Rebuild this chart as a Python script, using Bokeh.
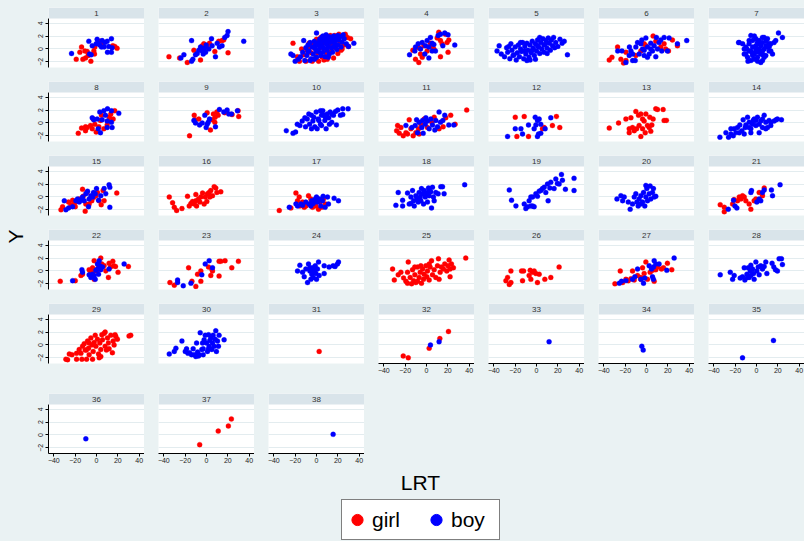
from bokeh.plotting import figure
from bokeh.layouts import row, column
from bokeh.models import (Range1d, FixedTicker, BoxAnnotation, Label, Grid,
                          Legend, LegendItem, GlobalInlineStyleSheet)
from bokeh.embed import file_html
from bokeh.resources import INLINE

# ---------------- style ----------------
BG = "#EAF2F3"
STRIP = "#D9E4EA"
GRIDC = "#E3ECEF"
RED = "#FF0000"
BLUE = "#0000FF"
FONT = "Liberation Sans"

# ---------------- axes / labels ----------------
Y_TICKS = [-2, 0, 2, 4]
X_TICKS = [-40, -20, 0, 20, 40]
Y_TICK_LABELS = {-2: "\u22122", 0: "0", 2: "2", 4: "4"}
X_TICK_LABELS = {-40: "\u221240", -20: "\u221220", 0: "0", 20: "20", 40: "40"}
X_TITLE = "LRT"
Y_TITLE = "Y"
SERIES = ["girl", "boy"]

# ---------------- data (LRT, Y) per school panel ----------------
p1_girl = [(-19,-1.6),(-14,0.3),(-15.6,-0.5),(-10.9,-0.3),(-8.7,-0.4),(-12.8,-1.6),(-10.3,-1.4),(-7.8,-1.0),(-5.3,-1.9),(-2.5,-0.3),(-1.6,0.3),(-1.9,-0.8),(3.7,1.2),(6.2,1.0),(15.3,0.5),(17.1,0.4),(19.3,0.1),(1.6,1.2)]
p1_boy = [(-23.4,-0.7),(-7.2,1.2),(-4,0.5),(-6.5,-0.8),(-5,-0.9),(0.6,1.5),(-0.3,0.8),(1.6,0.9),(3.1,0.6),(4.7,0.3),(5.3,1.3),(7.8,1.0),(10,1.2),(10.3,-0.5),(11.5,0.4),(14,1.6),(14,-0.5),(14.6,0.2),(7.2,0.3)]

p2_girl = [(-35.2,-1.2),(-25.2,-1.4),(-18,-2.1),(-11.8,-0.2),(-5.6,-1.7),(-4,0.5),(-2.5,0.8),(0.6,0.3),(2.8,0.9),(7.8,-0.4),(11.5,1.2),(14.6,1.3),(16.2,1.4),(20.2,-0.6)]
p2_boy = [(-24,-1.4),(-21.2,-0.9),(-14,-1.9),(-12.8,-1.6),(-10.3,-0.9),(-8.7,-0.7),(-14,1.3),(-7.2,-0.2),(-5.6,0.3),(-4,-0.3),(-1.9,0.1),(-0.3,0.6),(2.2,0),(4.7,1.6),(5.3,0.5),(8.4,-1.2),(10,0.9),(12.1,0.3),(14.6,0.5),(17.1,1.8),(19.3,2.1),(20.2,2.7),(34.9,1.2),(-0.9,-0.5),(-3.1,-0.8)]

p3_girl = [(-22,0.9),(-18,-1.2),(-16,-1.9),(-14,0.0),(-12,-0.9),(-10,-1.9),(-9,-0.2),(-7,0.9),(-5,-0.6),(-4,-1.9),(-3,0.8),(-1,-1.4),(0,1.5),(1,-0.6),(2,-1.9),(3,0.6),(4,1.8),(5,-1.2),(6,0.2),(7,-1.7),(8,1.0),(9,-0.6),(10,1.9),(11,-1.1),(12,0.6),(13,2.1),(14,-0.3),(15,0.9),(16,-1.4),(17,2.1),(18,0.2),(19,1.6),(20,-0.7),(21,2.3),(22,1.0),(24,0.0),(25,2.0),(26,0.6),(27,2.3),(29,1.8),(30,0.4),(32,1.6),(-6,0.3),(6,1.2),(-2,0.2),(10,-1.6),(23,-0.2)]
p3_boy = [(-24,-0.8),(-22,-1.0),(-20,-1.9),(-17,-1.6),(-15,-1.2),(-12,1.3),(-13,-0.5),(-11,-1.8),(-10,0.2),(-9,-1.0),(-8,0.6),(-7,-0.3),(-6,1.0),(-5,-1.5),(-4,0.3),(-3,-0.8),(-2,1.2),(-1,0.0),(0,2.5),(0,-1.3),(1,0.7),(2,-0.4),(3,1.5),(3,0.2),(4,-1.0),(5,1.8),(5,0.5),(6,-0.5),(7,1.2),(7,0.1),(8,1.7),(8,-1.2),(9,0.8),(10,1.4),(10,-0.2),(11,0.4),(12,1.9),(12,-0.8),(13,1.0),(14,0.2),(15,1.6),(15,-0.5),(16,2.0),(17,0.8),(18,1.3),(19,-0.1),(20,2.1),(20,0.6),(21,1.4),(22,1.9),(23,0.3),(24,1.1),(25,2.2),(26,1.6),(28,0.8),(30,0.4),(35,0.9),(-6,-1.8),(-2,-1.6),(2,1.0),(6,2.0),(9,2.2),(4,0.9),(-1,0.6),(11,-1.3),(14,1.3),(18,1.9),(0,-0.3),(-8,-0.4),(16,0.3)]

p4_girl = [(-10.3,-1.6),(-7.2,-2.1),(-5.6,-0.8),(-12.8,-0.2),(-4,-1.3),(5.3,0.4),(6.9,0),(10,1.7),(11.5,2.6),(13.1,1.3),(14.6,0.8),(17.8,2.3),(19.3,1.0),(20.9,1.4),(20.2,-0.5),(13.1,-1.2),(0.6,-0.3),(-2.5,0.5),(3.7,0.9),(-7.2,0.2)]
p4_boy = [(-15.9,-0.9),(-10.9,-0.3),(-7.8,0.8),(-5.6,0),(-4,1.0),(-0.9,0.5),(0.6,1.3),(2.2,0.3),(3.7,1.8),(5.3,0.9),(6.9,0.7),(8.4,-0.3),(10.9,2.1),(13.1,2.3),(15.3,0.5),(17.1,2.5),(20.2,2.2),(26.5,0.6),(-1.6,-0.8),(2.2,-1.4),(-10.3,0.3),(5.3,-0.3)]

p5_girl = []
p5_boy = [(-37,-0.3),(-35,0.5),(-33,-0.8),(-30,-1.2),(-28,0.2),(-27,-0.5),(-25,-1.5),(-24,0.8),(-23,-0.2),(-22,-1.0),(-20,0.3),(-19,-1.7),(-18,-0.6),(-17,0.6),(-16,-1.2),(-15,0.0),(-14,-0.4),(-13,1.0),(-12,-1.5),(-11,0.4),(-10,-0.8),(-9,0.9),(-8,-0.2),(-7,-1.3),(-6,0.6),(-5,-0.6),(-4,1.2),(-3,0.1),(-2,-1.0),(-1,0.8),(0,-0.3),(1,1.4),(2,0.3),(3,-0.7),(4,1.0),(5,0.0),(6,1.6),(7,-0.5),(8,0.7),(9,1.3),(10,0.1),(11,1.7),(12,0.9),(13,-0.2),(14,1.4),(15,0.5),(16,1.8),(18,1.0),(20,0.4),(22,1.5),(24,0.9),(26,1.2),(29,-0.9),(-21,-0.9),(-26,0.4),(-9,-1.8),(-1,-1.6),(3,1.8),(7,0.6),(-4,-0.2),(-15,1.0),(10,-0.7),(17,0.2),(-6,-1.7),(1,0.5),(-11,-0.3)]

p6_girl = [(-34.9,-1.7),(-32.4,-1.3),(-27.1,0.3),(-24,-1.6),(-21.5,-2.2),(-19.3,-1.8),(-2.2,0.8),(-0.6,0.5),(6.2,2.0),(8.7,1.2),(13.4,0.3),(16.5,0.8),(20.6,-0.3),(24.3,1.4),(29,0.5),(-19.3,-0.5),(-10,-1.0),(-5.3,-0.3),(18,0)]
p6_boy = [(-27,-0.3),(-23,-0.3),(-19.3,-2.1),(-16.2,-1.0),(-14.6,-0.3),(-13,-1.8),(-10.6,-1.8),(-10,0.3),(-8.4,1.0),(-6.9,-0.8),(-4.4,1.4),(-3.7,0),(-2.2,-1.0),(-0.6,1.7),(0.9,0.3),(2.5,-0.8),(4,0.9),(5.6,-0.3),(7.2,0.5),(9.3,1.8),(10.3,0),(11.8,1.0),(14.3,-0.3),(16.5,1.8),(19.6,-0.3),(21.2,1.7),(29,0.8),(37.7,1.3),(0.9,-1.3),(-5.3,0.8),(-13,-0.8),(8.7,-1.2),(13.4,1.4),(4,0),(-2.2,-0.2),(-16,0.3)]

p7_girl = []
p7_boy = [(-16.8,1.0),(-5.3,2.1),(7.2,1.8),(20.6,2.5),(24.3,1.8),(18,1.3),(13.4,0.8),(15,-0.8),(5.6,-1.8),(4,-2.1),(-5.3,-1.8),(-11.5,-0.8),(-10,0.3),(-6.9,0.8),(-3.7,1.3),(-0.6,1.6),(2.5,1.3),(5.6,1.0),(10.3,0.3),(11.8,-0.3),(8.7,-1.0),(0.9,-1.3),(-2.2,-0.8),(-6.9,-0.3),(-3.7,0.3),(-0.6,0.5),(2.5,0),(5.6,-0.3),(8.7,0.5),(-2.2,-1.6),(-8.4,-1.3),(4,-0.8),(7.2,-1.3),(0.9,1.0),(-5.3,-0.3),(-10,-0.8),(10.3,1.6),(13.4,-0.3),(5.6,1.8),(-6.9,1.3),(2.5,-0.5),(-0.6,-0.5),(-3.7,-1.0),(-13,0.8),(4,0.5),(-0.6,0),(7.2,0),(11.8,0.8),(16.5,1.0),(-11.5,0),(-16.2,1.0),(-8,-1.9),(1,-1.9),(9,1.2),(-2,2.0),(3,0.8),(-4,-0.6),(6,-0.9),(12,0.4),(-9,0.0)]

p8_girl = [(-17.1,-1.6),(-14,-0.8),(-10.3,-1.2),(-8.7,-0.7),(-5.6,-0.4),(-4,-0.9),(-1.6,-0.2),(-0.3,-1.4),(2.2,-0.6),(4.7,1.2),(6.9,-0.9),(10,-0.3),(12.1,0.9),(13.4,1.4),(15.6,0.6),(17.1,1.9),(11.5,0.3),(3.7,0.4),(-10.3,-0.6),(-3.1,0.6)]
p8_boy = [(-4,0.8),(-2.5,0.5),(0.6,0.6),(3.1,1.7),(6.9,1.9),(10.3,2.2),(14,1.9),(20.9,1.5),(8.4,1.2),(10,0.3),(14,0.1),(14.6,-0.7),(10,-0.7),(3.7,-1.5),(1.6,-0.9),(5.3,0.5)]

p9_girl = [(-15.9,-2.0),(-11.5,1.2),(-10.9,0.5),(-7.2,0.6),(0.6,1.6),(3.7,-1.1),(5.6,0.5),(6.5,1.4),(8.1,0.9),(9.7,1.7),(10.9,1.2),(17.1,1.6),(24,1.3),(30.2,1.0),(29.6,1.9),(7.8,0.1)]
p9_boy = [(-11.8,0.4),(-10.3,0),(-6.5,-0.3),(-4,0),(-1.6,1.2),(-0.3,-0.7),(1.6,0.1),(2.8,0.6),(8.4,-0.6),(12.1,2.1),(16.2,1.7),(19.3,2.0),(20.9,1.4),(23.4,1.4),(29,1.9),(0.6,-0.2)]

p10_girl = []
p10_boy = [(-28.3,-1.2),(-22,-1.6),(-19.6,-1.4),(-18,-0.2),(-13.4,0.3),(-10.3,-0.6),(-8.7,0.6),(-6.5,-0.2),(-4.7,1.2),(-3.4,0.3),(-1.6,-0.6),(-0.3,1.7),(1.6,0.6),(3.7,-0.2),(4.7,1.2),(5.9,1.9),(7.8,0.4),(9,-0.9),(10,1.4),(11.5,0.8),(12.8,1.7),(14.3,0.1),(15.9,1.2),(17.8,1.8),(18.7,-0.3),(19.9,2.0),(22.4,1.2),(24.6,1.3),(24.6,2.2),(29.6,2.2),(-10.9,0.8),(-2.5,0.9),(4.7,-0.4),(8.4,0.9),(12.1,-0.2),(14.6,1.4),(-4.7,-0.9),(2.2,0.4),(6.9,1.2),(-7.2,1.4),(3.7,1.9),(0.6,-0.9),(-15.6,-0.4)]

p11_girl = [(-28,-1.2),(-27.1,-0.4),(-24,-0.7),(-21.8,-2.0),(-19.3,-1.5),(-16.2,0.5),(-14.6,-0.9),(-12.5,-2.0),(-10,-1.5),(-7.5,-0.9),(-5.3,-0.2),(-2.2,0.6),(0.9,-0.7),(5,0.1),(7.2,0.9),(11.8,-0.9),(15.6,-0.6),(18.1,0.8),(22.7,1.2),(26.8,-0.2),(37.7,2.0),(-25.5,-1.6),(-17.8,-1.7),(-6.9,-1.7)]
p11_boy = [(-19.3,-0.4),(-13.7,-0.7),(-10.6,-0.4),(-8.4,-1.5),(-6.9,0.1),(-4.4,-0.7),(-3.1,-1.6),(-1.2,-0.2),(0.9,0.3),(2.5,-0.9),(4,0.6),(5.6,-0.3),(7.8,-1.1),(8.7,0.4),(11.8,1.7),(13.1,0.1),(15.3,0.4),(17.1,1.2),(20.9,-0.3),(25.6,-0.3),(-9.3,0.5),(-0.6,0.8),(-3.7,0.4),(10.3,-0.6)]

p12_girl = [(-19.9,0.9),(-11.5,1.0),(-18.4,-2.1),(-7.5,-2.1),(18.7,1.0),(14.9,-0.4),(21.8,-0.7),(7.2,-0.7),(5.6,-0.9)]
p12_boy = [(-27.1,-2.1),(-19.9,-0.9),(-14.6,-0.9),(-7.5,-0.3),(-13.1,-1.7),(-1.2,0.9),(-2.2,-0.9),(0.9,0.4),(0.9,-2.1),(2.5,0.6),(-0.6,-0.3),(4,-0.2),(1.9,-1.7),(4,-1.6),(13.4,0.8),(8.1,-0.9)]

p13_girl = [(-34.9,-0.8),(-26.2,0),(-19.3,0.6),(-16.2,-0.9),(-14.6,0.8),(-16.2,-1.5),(-13.1,-0.7),(-10,1.8),(-9.3,-0.9),(-7.5,1.2),(-6.9,-0.4),(-5.3,-2.1),(-3.7,0.6),(-2.2,0.3),(-1.2,-1.5),(-0.6,1.4),(0.9,-0.4),(2.5,-0.7),(3.1,0.9),(5,-0.3),(6.2,0.6),(8.7,2.2),(10.3,2.1),(15.6,2.1),(16.5,0.4),(18.7,0.4),(-3.7,-0.9),(-11.5,-1.2),(-5.3,1.4),(4,-1.3)]
p13_boy = []

p14_girl = []
p14_boy = [(-34.3,-2.2),(-28.7,-1.5),(-26.2,-2.2),(-24,-0.9),(-21.8,-2.0),(-19.3,-1.5),(-17.8,-0.7),(-15.6,-0.3),(-13.7,-1.2),(-12.5,0.5),(-10.6,-0.7),(-8.4,0.9),(-6.9,0.1),(-5.3,-0.9),(-3.7,-0.2),(-2.2,0.6),(-0.6,-0.4),(0.9,0.9),(2.5,-1.5),(4,0.3),(5.6,-0.7),(7.2,1.2),(8.7,0.1),(10.3,-0.7),(11.8,0.4),(13.4,-0.4),(16.5,0.3),(18.4,0.5),(19.6,0.6),(23.4,0.5),(-20.9,-0.9),(-16.2,-1.5),(-10,-0.3),(-6.9,-0.7),(-3.1,0.4),(2.5,-0.2),(5.6,0.6),(8.7,-0.9),(-5.3,-1.5),(-11.5,-1.7),(13.4,0.1),(-24,-1.7),(-0.6,0.4)]

p15_girl = [(-33.3,-2.0),(-31.8,-1.5),(-26.2,-0.8),(-24,-1.2),(-22.4,-0.5),(-20.9,-1.1),(-19.9,-1.5),(-18.7,-0.7),(-16.2,-0.3),(-13.1,1.2),(-12.5,0.1),(-10.6,-2.2),(-9,0.7),(-6.9,-1.1),(-4.4,-0.6),(-2.8,-0.1),(-0.6,0.2),(0.9,0.7),(2.5,-0.6),(4.4,-1.2),(6.2,1.0),(7.2,-0.6),(19,0.6),(-10,-1.1)]
p15_boy = [(-30.2,-0.6),(-28.7,-2.0),(-26.2,-1.7),(-22.4,-1.5),(-19.3,-0.6),(-17.8,-0.3),(-16.2,-0.8),(-14.6,-0.5),(-13.1,0),(-11.5,-0.6),(-10,0.5),(-8.4,0.9),(-7.5,-1.5),(-6.9,-0.3),(-5.3,0.2),(-2.8,0.7),(-1.2,0.5),(0,1.3),(1.9,-0.5),(4,0.2),(7.2,1.3),(8.7,0.5),(11.8,1.9),(12.5,1.5),(12.5,-1.6),(-3.7,0)]

p16_girl = [(-34.9,0),(-31.8,-0.9),(-30.2,-1.6),(-28,-2.1),(-23,-1.8),(-17.8,0.1),(-16.2,-1.4),(-14.6,-1.0),(-13.1,-0.7),(-11.5,-1.1),(-10,0.4),(-9.3,-1.4),(-7.5,-0.3),(-6.2,-0.8),(-5.3,0),(-3.7,0.6),(-2.2,-1.1),(-1.2,0),(0.3,-0.7),(0.9,0.5),(2.5,0.7),(3.1,0),(4,1.0),(5.6,0.2),(7.2,1.6),(8.7,1.4),(9.7,0.7),(13.4,0.8),(-10,-0.6)]
p16_boy = []

p17_girl = [(-34.9,-2.1),(-24,-1.7),(-19.3,0.6),(-17.8,-0.6),(-15.6,-1.4),(-13.1,-0.8),(-11.5,-1.6),(-10,-1.4),(-7.5,0.2),(-6.2,-1.1),(-5.3,-0.3),(-3.7,-1.6),(-0.6,-1.4),(1.9,-1.9),(3.4,-0.8),(5,-1.6),(6.5,-0.3),(8.4,-1.1),(-16.2,0)]
p17_boy = [(-25.5,-1.6),(-19.3,-1.1),(-17.8,-1.4),(-14.6,-1.1),(-13.1,-1.3),(-10,-0.8),(-6.9,-1.1),(-4.4,-0.6),(-3.1,-1.0),(-1.2,-0.3),(0,0),(1.2,-0.8),(2.5,-0.3),(4,-1.4),(5.6,-0.6),(6.2,0.1),(8.1,-1.6),(10.3,0),(11.2,-1.1),(16.5,-0.2),(20.6,-0.6),(-0.6,-0.7),(-5.3,-1.4)]

p18_girl = []
p18_boy = [(-28.7,-1.3),(-26.5,0.7),(-22.4,-0.5),(-22.4,-1.4),(-17.8,0.6),(-16.2,-1.1),(-14.6,0),(-13.1,1.0),(-12.1,-0.6),(-11.5,-1.4),(-10,0.2),(-9,-0.3),(-7.8,-0.8),(-6.9,0.7),(-5.9,0),(-4.7,1.3),(-3.7,0.5),(-2.8,-1.1),(-2.2,1.0),(-1.2,0),(0,0.6),(0.9,-0.8),(1.9,1.4),(2.5,0.2),(4,0.8),(4.7,-1.7),(5.6,1.5),(6.5,0),(7.2,-0.6),(8.7,0.7),(10.9,0.5),(13.4,1.6),(15,1.6),(16.5,0.5),(35.8,1.9),(-14.6,-1.0),(-5.3,-0.6),(2.5,1.1)]

p19_girl = []
p19_boy = [(-25.5,1.1),(-23.4,-0.5),(-19.3,-1.4),(-11.5,-1.1),(-10,-1.8),(-8.4,-1.5),(-6.9,-0.6),(-5.3,-1.4),(-3.7,0),(-2.2,-1.5),(-0.6,0.5),(0.9,0.1),(2.5,0.9),(4,1.0),(5.6,1.3),(7.2,1.5),(8.7,0.7),(10.3,2.0),(10.9,-0.6),(12.5,1.4),(13.4,2.3),(16.5,1.3),(18.1,2.8),(19.6,2.1),(21.2,2.0),(23.4,3.5),(24.3,2.6),(27.1,1.2),(35.2,2.9),(35.2,1.0),(-3.7,-1.4),(-5.3,0)]

p20_girl = []
p20_boy = [(-27.7,-0.3),(-24,0.2),(-20.9,0),(-22.4,-0.6),(-17.1,-0.8),(-15.3,-1.9),(-13.1,-1.1),(-11.5,0),(-10,0.5),(-9,-0.8),(-7.8,-1.4),(-6.9,-0.3),(-5.3,0.2),(-3.7,-0.8),(-2.8,0.7),(-1.6,-1.4),(-0.6,0),(0.3,1.3),(0.9,-0.6),(2.5,0.5),(3.4,1.7),(4,-0.3),(5.6,0.7),(6.5,1.3),(7.2,0),(8.7,0.1),(-0.6,1.8),(-5.3,-1.1)]

p21_girl = [(-34,-1.2),(-30.2,-1.6),(-30.2,-2.3),(-22.4,-1.1),(-17.8,-0.6),(-16.2,0),(-14.6,-0.3),(-13.1,0.2),(-11.5,0),(-10,-0.6),(-6.9,-1.1),(-5.3,-1.9),(-2.2,-0.6),(-0.6,-0.3),(2.5,0.7),(5.6,0.2),(7.2,1.4),(-21,-0.4)]
p21_boy = [(-26.5,-1.9),(-21.5,-0.5),(-20.2,-1.4),(-18.4,-1.7),(-5.3,0.7),(-4.7,1.0),(0.3,-0.8),(2.5,-0.3),(4,-0.6),(5.6,0.7),(7.2,1.1),(14,1.1),(15,0.2),(22.1,1.9)]

p22_girl = [(-34,-1.6),(-19.9,-1.5),(-14.6,-0.7),(-13.1,-0.5),(-6.9,0.2),(-5.3,-0.2),(-3.7,0.5),(-2.2,1.6),(-2.2,-1.3),(0,0),(1.9,0.8),(4,2.0),(5,1.1),(7.2,0.8),(8.7,0),(11.2,-1.0),(11.8,1.2),(13.1,0.6),(15.3,1.5),(16.2,0.8),(17.8,0.7),(20.2,-0.2),(29.9,0.7),(-3.7,0)]
p22_boy = [(-22.4,-1.5),(-13.7,0.2),(-13.1,-0.2),(-6.9,-0.6),(-5.3,-1.0),(-3.7,-0.5),(-2.2,-0.7),(-0.6,0.1),(0.9,0.3),(1.9,-0.5),(2.5,1.6),(3.1,0.8),(4,0.2),(5.6,0.6),(11.8,0.3),(25.9,1.1),(-1.2,-1.3),(0.9,1.1)]

p23_girl = [(-34.3,-1.8),(-30.2,-2.2),(-16.8,0.5),(-13.7,-1.6),(-10,-2.4),(-8.4,-0.5),(-5.3,0),(-5.3,-1.6),(1.9,0.6),(4,-0.7),(5,0.3),(5.6,0),(11.8,-0.8),(11.8,1.5),(13.4,1.5),(17.4,1.6),(23.7,0.5),(29.9,1.5)]
p23_boy = [(-27.1,-1.4),(-27.1,-1.8),(-21.8,-2.3),(-14.6,-1.9),(-4.4,-0.6),(-1.2,1.1),(2.5,1.6),(5.6,0.5)]

p24_girl = []
p24_boy = [(-17.8,0),(-15.6,0.9),(-13.1,-0.2),(-11.5,-0.9),(-10,0.3),(-8.4,-1.8),(-7.5,1.1),(-6.2,0),(-5.3,-1.3),(-4.4,-0.5),(-3.7,0.5),(-3.1,-1.0),(-2.2,0),(-1.2,0.8),(-0.6,-0.4),(0,-1.3),(0.9,0.3),(1.9,1.4),(2.5,-0.7),(7.2,0.8),(7.2,-0.4),(11.8,0.6),(15.6,0.8),(17.4,0.7),(19.6,1.1),(20.6,1.4),(-6.2,0.5),(-0.6,0.3)]

p25_girl = [(-31.8,0.3),(-30.2,-1.4),(-26.5,-0.6),(-21.5,-1.1),(-19.3,-1.6),(-17.8,-0.2),(-17.1,1.4),(-15.3,-1.0),(-14,-2.0),(-13.1,0.2),(-12.1,-1.5),(-10.9,-0.6),(-10,-1.8),(-8.4,0.6),(-6.9,-1.0),(-5.9,-0.2),(-4.7,-1.9),(-3.7,0.3),(-2.8,-1.3),(-2.2,-0.5),(-0.6,0.8),(0.3,-0.9),(0.9,0),(2.5,-1.4),(3.4,0.6),(4.7,1.6),(5.6,-0.6),(7.2,0.2),(8.7,-1.0),(10.3,0.8),(11.2,1.9),(12.8,-0.2),(14,0.6),(15.9,0.3),(17.1,1.1),(19,0),(20.2,0.8),(21.2,1.7),(22.1,0.3),(23.4,1.1),(25.2,0.5),(22.1,-0.9),(36.8,2.0),(-5.3,0.8),(2.5,1.1),(-24,-0.2),(11.8,-1.3),(-8.4,-1.6),(-17.8,-1.9),(-11,0.6)]
p25_boy = []

p26_girl = [(-28.7,-1.5),(-27.1,-1.0),(-25.5,-2.1),(-24,0),(-24,-1.8),(-14,0),(-12.1,0),(-13.1,-1.5),(-6.9,-0.7),(-5.9,0.1),(-5.3,-1.3),(-3.7,-0.2),(-2.2,0),(0.9,-1.8),(2.5,-0.5),(7.8,-1.3),(13.4,-1.0),(21.2,0.6),(-0.6,-0.4)]
p26_boy = []

p27_girl = [(-29.6,-2.0),(-24.6,0),(-22.4,-1.8),(-19.3,-1.3),(-17.1,-1.5),(-14.6,-1.2),(-13.1,0),(-11.5,-1.4),(-8.4,-0.7),(-5.3,-1.3),(-3.7,0.5),(-2.2,-0.4),(-0.6,1.4),(0.9,-1.3),(3.4,-0.2),(5.6,0.1),(7.2,-1.6),(8.7,0.2),(10.3,0.6),(14,0.3),(15.9,0.5),(19.6,1.2),(23.7,0.2),(-5.3,-1.0)]
p27_boy = [(-25.5,-1.9),(-23.4,-1.6),(-19.3,-1.5),(-13.1,-1.3),(-10.9,-0.9),(-8.4,0.3),(-5.3,-1.3),(-2.8,-1.9),(-1.6,-1.1),(2.5,0.8),(4.7,0.3),(6.5,0.6),(7.2,1.6),(8.7,1.1),(5.6,-0.9),(6.5,-1.3),(11.8,1.1),(19,0.1),(25.9,2.0)]

p28_girl = []
p28_boy = [(-34,-0.6),(-24.6,-0.2),(-22.4,-1.3),(-20.9,-0.7),(-15.3,-1.1),(-13.1,-0.9),(-11.5,0.5),(-10.9,-1.4),(-9,-0.5),(-7.8,0.5),(-6.9,-1.0),(-5.9,0),(-5.3,-0.7),(-3.7,0.3),(-2.8,-0.4),(-2.2,-1.3),(-0.6,1.4),(0.3,0),(1.6,0.6),(2.5,-0.6),(4,0.8),(5.6,0.3),(7.2,0.7),(8.7,1.4),(9.7,-0.4),(14.6,1.2),(16.2,0.6),(17.8,0.2),(19.6,0),(21.2,1.9),(23.4,1.9),(24.3,1.0),(-5.3,0.9),(-8.4,-1.0)]

p29_girl = [(-28.7,-2.2),(-27.1,-2.3),(-25.5,-1.4),(-23,-1.5),(-18.7,-1.3),(-18.7,-2.2),(-16.2,-0.7),(-14.6,-1.3),(-13.7,-2.2),(-13.1,-0.2),(-11.5,0.2),(-10.6,-0.8),(-9.3,-2.2),(-8.4,0.6),(-7.5,-0.5),(-6.9,-1.5),(-5.3,1.1),(-4.4,0),(-3.7,-2.2),(-3.1,-1.0),(-2.2,0.4),(-1.2,1.5),(-0.6,-0.2),(0.9,0.9),(1.9,-1.4),(2.5,-2.0),(3.1,0.3),(4,-0.7),(5,1.6),(5.6,0.8),(7.2,1.8),(8.1,-0.2),(9.3,-0.8),(10.3,1.1),(11.2,0.3),(11.8,-0.6),(13.4,1.5),(14.9,-1.2),(15.6,0.6),(16.5,0),(17.4,1.6),(18.1,1.3),(19.6,0.9),(30.5,1.4),(32.1,1.5),(8.1,2.0),(-6.9,0.3),(4,-1.8),(-9.6,-0.8)]
p29_boy = []

p30_girl = []
p30_boy = [(-34.9,-1.4),(-30.2,-1.0),(-28.7,-0.5),(-23,0.6),(-19.9,-1.0),(-18.7,-0.6),(-17.4,-1.3),(-15.9,-1.2),(-14,-1.5),(-12.5,-0.6),(-11.5,-1.5),(-10,-1.8),(-9.3,0.3),(-7.5,-1.7),(-6.9,-1.5),(-5.9,1.9),(-4.4,-0.7),(-3.7,0.3),(-3.1,-0.6),(-2.2,0.8),(-1.2,1.5),(0,0.3),(0.9,-1.0),(1.9,1.6),(2.5,-0.2),(3.1,0.7),(4,1.1),(5,-0.7),(5.6,0.3),(6.2,1.5),(7.2,-0.2),(8.1,0.9),(8.7,2.2),(9.3,-1.0),(10.3,0.6),(11.2,-0.2),(11.8,1.5),(16.5,0.8),(1.9,-0.6),(-3.1,-1.5),(-8.4,-1.1)]

p31_girl = [(2.5,-1.0)]
p31_boy = []

p32_girl = [(-21.8,-1.7),(-17.1,-2.0),(2.5,-0.5),(12.5,1.0),(20.6,2.1)]
p32_boy = [(3.7,0),(11.8,0.5)]

p33_girl = []
p33_boy = [(11.8,0.5)]

p34_girl = []
p34_boy = [(-4.4,-0.2),(-3.1,-0.8)]

p35_girl = []
p35_boy = [(-13.1,-2.0),(15.9,0.7)]

p36_girl = []
p36_boy = [(-10,-0.6)]

p37_girl = [(-6.4,-1.5),(11,0.6),(20.5,1.4),(23.3,2.5)]
p37_boy = []

p38_girl = []
p38_boy = [(15.6,0.1)]

g = globals()
PANELS = [(k, g["p%d_girl" % k], g["p%d_boy" % k]) for k in range(1, 39)]

# ---------------- layout geometry ----------------
NCOL = 7
FW, FH = 96, 60          # panel frame (strip + plot area)
GAP = 14                 # gap between panels
YTITLE_W = 26
LEFT1 = 22               # room for y tick labels in first column
TOP = 7
BOTTOM = [GAP, GAP, GAP, GAP, 30, 15]
XLO, XHI = -45.0, 45.0
YLO, YSTRIP, YHI = -2.88, 4.73, 6.45


def style_axis(ax, labels):
    ax.axis_line_color = "#000000"
    ax.axis_line_width = 1
    ax.major_tick_line_color = "#000000"
    ax.major_tick_out = 3
    ax.major_tick_in = 0
    ax.minor_tick_out = 0
    ax.minor_tick_in = 0
    ax.major_label_text_font = FONT
    ax.major_label_text_font_size = "7px"
    ax.major_label_text_color = "#222222"
    ax.major_label_standoff = 1
    ax.major_label_overrides = labels


def make_panel(num, girl, boy, col, rowi):
    has_x = num >= 32
    has_y = col == 0
    p = figure(frame_width=FW, frame_height=FH,
               x_range=Range1d(XLO, XHI), y_range=Range1d(YLO, YHI),
               x_axis_location="below" if has_x else None,
               y_axis_location="left" if has_y else None,
               output_backend="svg", toolbar_location=None,
               min_border=0,
               min_border_left=(LEFT1 if has_y else GAP),
               min_border_bottom=BOTTOM[rowi],
               min_border_top=(TOP if rowi == 0 else 0), min_border_right=0,
               background_fill_color="white", border_fill_color=BG,
               outline_line_color=None)
    for gr in p.grid:
        gr.visible = False
    p.add_layout(Grid(dimension=1, ticker=FixedTicker(ticks=Y_TICKS),
                      grid_line_color=GRIDC, grid_line_width=1))
    if has_y:
        ax = p.yaxis[0]
        ax.ticker = FixedTicker(ticks=Y_TICKS)
        ax.bounds = (YLO, YSTRIP)
        ax.major_label_orientation = "vertical"
        style_axis(ax, Y_TICK_LABELS)
        ax.major_label_standoff = 2
    if has_x:
        ax = p.xaxis[0]
        ax.ticker = FixedTicker(ticks=X_TICKS)
        style_axis(ax, X_TICK_LABELS)
    if girl:
        gx, gy = zip(*girl)
        p.scatter(list(gx), list(gy), size=5, fill_color=RED, line_color=RED, line_width=0.3)
    if boy:
        bx, by = zip(*boy)
        p.scatter(list(bx), list(by), size=5, fill_color=BLUE, line_color=BLUE, line_width=0.3)
    p.add_layout(BoxAnnotation(bottom=YSTRIP, fill_color=STRIP, fill_alpha=1,
                               line_color=None, level="annotation"))
    p.add_layout(Label(x=0, y=(YSTRIP + YHI) / 2, text=str(num),
                       text_align="center", text_baseline="middle",
                       text_font=FONT, text_font_size="8px", text_color="#333333"))
    return p


rows = []
for rowi in range(6):
    figs = []
    for col in range(NCOL):
        idx = rowi * NCOL + col
        if idx >= len(PANELS):
            break
        num, girl, boy = PANELS[idx]
        figs.append(make_panel(num, girl, boy, col, rowi))
    rows.append(row(*figs))
grid = column(*rows)

GRID_H = TOP + sum(FH + b for b in BOTTOM)
GRID_W = LEFT1 + FW + (NCOL - 1) * (GAP + FW)

# y title
yfig = figure(frame_width=YTITLE_W, frame_height=GRID_H,
              x_range=Range1d(0, YTITLE_W), y_range=Range1d(0, GRID_H),
              x_axis_location=None, y_axis_location=None, min_border=0,
              output_backend="svg", toolbar_location=None,
              background_fill_color=BG, border_fill_color=BG, outline_line_color=None)
for gr in yfig.grid:
    gr.visible = False
yfig.add_layout(Label(x=15, y=GRID_H - 236, text=Y_TITLE, angle=1.5707963,
                      text_align="center", text_baseline="alphabetic",
                      text_font=FONT, text_font_size="21px", text_color="black"))

# x title and legend
BW, BH = YTITLE_W + GRID_W, 73
bfig = figure(frame_width=BW, frame_height=BH,
              x_range=Range1d(0, BW), y_range=Range1d(0, BH),
              x_axis_location=None, y_axis_location=None, min_border=0,
              output_backend="svg", toolbar_location=None,
              background_fill_color=BG, border_fill_color=BG, outline_line_color=None)
for gr in bfig.grid:
    gr.visible = False
bfig.add_layout(Label(x=420, y=BH - 14, text=X_TITLE,
                      text_align="center", text_baseline="middle",
                      text_font=FONT, text_font_size="21px", text_color="black"))
nan = float("nan")
rg = bfig.scatter(x=[nan], y=[nan], size=11, fill_color=RED, line_color=RED)
rb = bfig.scatter(x=[nan], y=[nan], size=11, fill_color=BLUE, line_color=BLUE)
legend = Legend(items=[LegendItem(label=SERIES[0], renderers=[rg]),
                       LegendItem(label=SERIES[1], renderers=[rb])],
                orientation="horizontal", location=(341, 1),
                glyph_width=28, glyph_height=37, label_width=47,
                label_standoff=1, spacing=3, padding=1, margin=0,
                border_line_color="black", border_line_width=1,
                background_fill_color="white", background_fill_alpha=1,
                label_text_font=FONT, label_text_font_size="21px",
                label_text_color="black")
bfig.add_layout(legend)

root = column(row(yfig, grid), bfig)
root.stylesheets = [GlobalInlineStyleSheet(css="html, body { background-color: #EAF2F3; }")]

open("out.html", "w").write(file_html(root, INLINE))
